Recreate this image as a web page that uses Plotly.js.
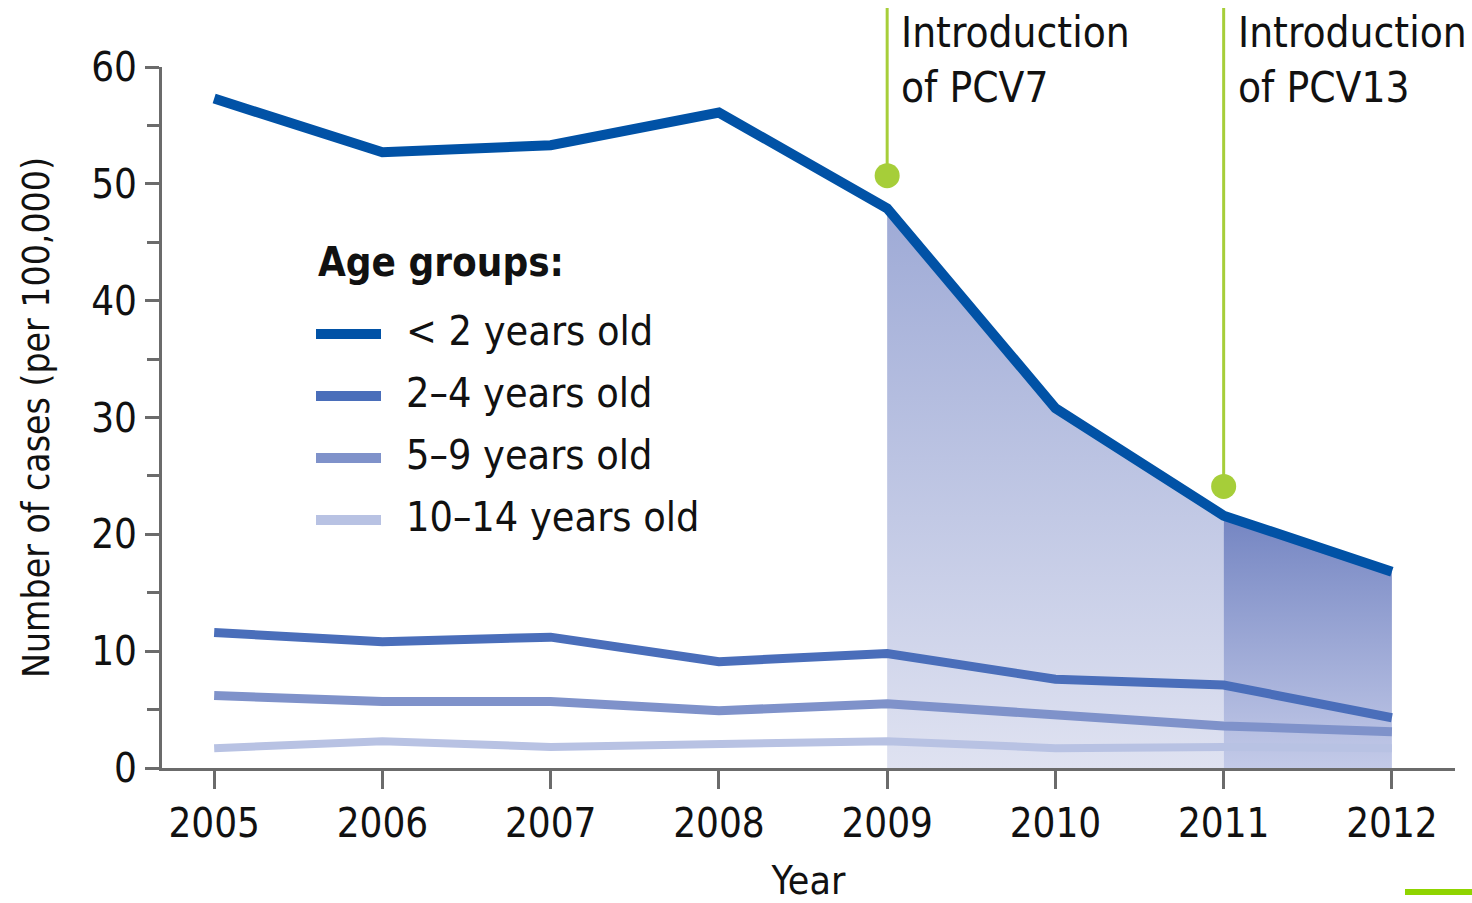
<!DOCTYPE html>
<html>
<head>
<meta charset="utf-8">
<script src="https://cdn.plot.ly/plotly-3.0.1.min.js"></script>
<style>
html,body{margin:0;padding:0;background:#fff;}
#chart{width:1472px;height:903px;}
</style>
</head>
<body>
<div id="chart"></div>
<script>
// ---- data ----
const years = [2005, 2006, 2007, 2008, 2009, 2010, 2011, 2012];
const under2 = [57.3, 52.7, 53.3, 56.1, 47.9, 30.8, 21.6, 16.8];
const age2to4 = [11.6, 10.8, 11.2, 9.1, 9.8, 7.6, 7.1, 4.3];
const age5to9 = [6.2, 5.7, 5.7, 4.9, 5.5, 4.5, 3.6, 3.1];
const age10to14 = [1.7, 2.3, 1.8, 2.1, 2.3, 1.7, 1.8, 1.7];
const seriesNames = ['< 2 years old', '2\u20134 years old', '5\u20139 years old', '10\u201314 years old'];
const pcvYears = [2009, 2011];
const pcvLabels = ['Introduction<br>of PCV7', 'Introduction<br>of PCV13'];
const pcvMarkerY = [50.7, 24.1];
const legendTitle = 'Age groups:';
const xTitle = 'Year';
const yTitle = 'Number of cases (per 100,000)';

// ---- styles ----
const FONT = '"DejaVu Sans Condensed", "Liberation Sans Narrow", "Noto Sans", sans-serif';
const colors = ['#0152a6', '#4a6eba', '#7f92ca', '#b8c2e3'];
const widths = [10, 9, 9, 8];
const GREEN = '#a6ce39';
const AXIS = '#6b6b6b';

const W = 1472, H = 903;
const M = {l: 162, r: 17, t: 67, b: 135};
const pw = W - M.l - M.r, ph = H - M.t - M.b;
const px = x => (x - M.l) / pw;
const py = y => (H - M.b - y) / ph;

const allSeries = [under2, age2to4, age5to9, age10to14];

const traces = [];
// shaded area 2009-2011 and 2011-2012
const i09 = years.indexOf(pcvYears[0]);
const i11 = years.indexOf(pcvYears[1]);
traces.push({
  x: years.slice(i09, i11 + 1), y: under2.slice(i09, i11 + 1),
  type: 'scatter', mode: 'none', fill: 'tozeroy', hoverinfo: 'skip', showlegend: false,
  fillgradient: {type: 'vertical', start: 0, stop: under2[i09],
    colorscale: [[0, '#dfe2f1'], [1, '#9eaad6']]}
});
traces.push({
  x: years.slice(i11), y: under2.slice(i11),
  type: 'scatter', mode: 'none', fill: 'tozeroy', hoverinfo: 'skip', showlegend: false,
  fillgradient: {type: 'vertical', start: 0, stop: under2[i11],
    colorscale: [[0, '#c3cae8'], [1, '#7485c2']]}
});
// lines (smallest first so <2 is on top)
for (let k = allSeries.length - 1; k >= 0; k--) {
  traces.push({
    x: years, y: allSeries[k], name: seriesNames[k], type: 'scatter', mode: 'lines',
    line: {color: colors[k], width: widths[k]}, showlegend: false
  });
}
// green markers
traces.push({
  x: pcvYears, y: pcvMarkerY, type: 'scatter', mode: 'markers',
  marker: {color: GREEN, size: 25}, showlegend: false, cliponaxis: false, hoverinfo: 'skip'
});

const shapes = [];
const annotations = [];
pcvYears.forEach((yr, i) => {
  shapes.push({type: 'line', xref: 'x', yref: 'paper', x0: yr, x1: yr,
    y0: pcvMarkerY[i] / 60, y1: py(8), line: {color: GREEN, width: 3}, layer: 'below'});
  annotations.push({xref: 'x', yref: 'paper', x: yr, xshift: 12, y: py(6), xanchor: 'left', yanchor: 'top',
    text: pcvLabels[i], showarrow: false, align: 'left',
    font: {family: FONT, size: 42, color: '#111'}});
});
// custom legend
annotations.push({xref: 'paper', yref: 'paper', x: px(316), y: py(262), xanchor: 'left', yanchor: 'middle',
  text: '<b>' + legendTitle + '</b>', showarrow: false, font: {family: FONT, size: 40, color: '#111'}});
const legY = [334, 396, 458, 520];
seriesNames.forEach((nm, k) => {
  shapes.push({type: 'line', xref: 'paper', yref: 'paper', x0: px(316), x1: px(381), y0: py(legY[k]), y1: py(legY[k]),
    line: {color: colors[k], width: 10}});
  annotations.push({xref: 'paper', yref: 'paper', x: px(404), y: py(legY[k] - 3), xanchor: 'left', yanchor: 'middle',
    text: nm, showarrow: false, font: {family: FONT, size: 41, color: '#111'}});
});
// small green bar bottom-right
shapes.push({type: 'rect', xref: 'paper', yref: 'paper', x0: px(1405), x1: px(1472), y0: py(895), y1: py(889),
  fillcolor: '#8fd400', line: {width: 0}});

const layout = {
  width: W, height: H,
  margin: M,
  paper_bgcolor: '#fff', plot_bgcolor: '#fff',
  font: {family: FONT, color: '#111'},
  showlegend: false,
  xaxis: {
    range: [2004.69, 2012.375], tickvals: years, ticktext: years.map(String),
    ticks: 'outside', ticklen: 18, tickwidth: 3, tickcolor: AXIS,
    showline: true, linewidth: 3, linecolor: AXIS, showgrid: false, zeroline: false,
    tickfont: {family: FONT, size: 40, color: '#111'},
    title: {text: xTitle, font: {family: FONT, size: 39, color: '#111'}, standoff: 38}
  },
  yaxis: {
    range: [0, 60], dtick: 10, tick0: 0,
    ticks: 'outside', ticklen: 14, tickwidth: 3, tickcolor: AXIS,
    minor: {dtick: 5, ticks: 'outside', ticklen: 12, tickwidth: 3, tickcolor: AXIS, showgrid: false},
    showline: true, linewidth: 3, linecolor: AXIS, showgrid: false, zeroline: false,
    tickfont: {family: FONT, size: 40, color: '#111'},
    title: {text: yTitle, font: {family: FONT, size: 37, color: '#111'}, standoff: 31}
  },
  shapes: shapes,
  annotations: annotations
};

Plotly.newPlot('chart', traces, layout, {displayModeBar: false, staticPlot: true});
</script>
</body>
</html>
